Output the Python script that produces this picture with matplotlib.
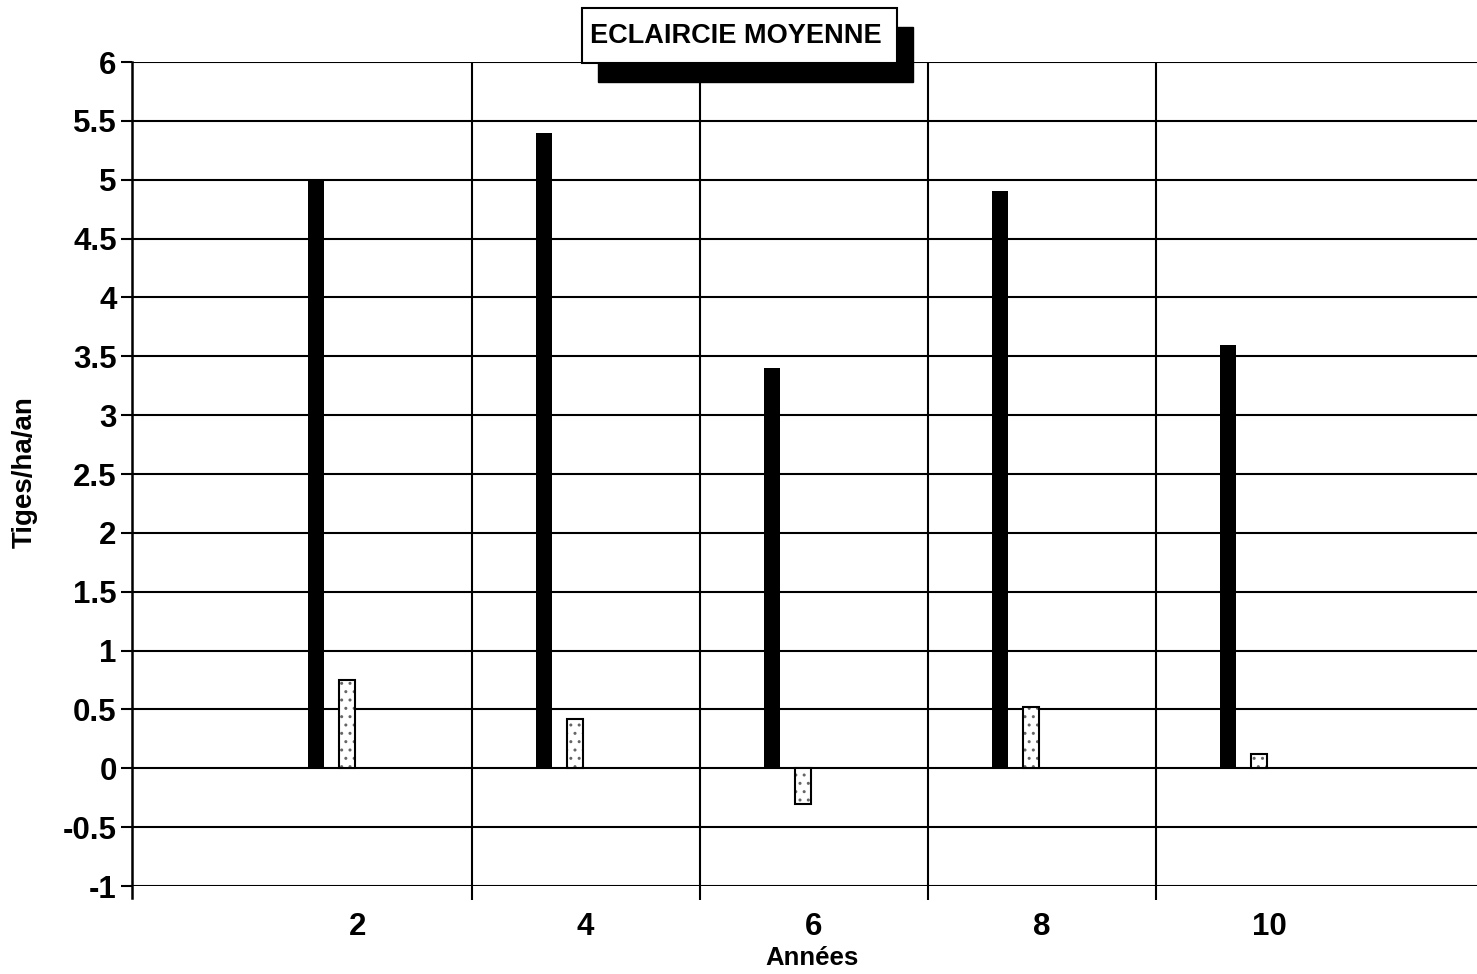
import matplotlib
matplotlib.use("Agg")
import matplotlib.pyplot as plt
from matplotlib.patches import Rectangle
import numpy as np

plt.rcParams['font.family'] = ['Liberation Sans', 'DejaVu Sans']
plt.rcParams['hatch.linewidth'] = 1.0

# data
annees = ["2", "4", "6", "8", "10"]
serie_noire = [5.0, 5.4, 3.4, 4.9, 3.6]
serie_pointillee = [0.75, 0.42, -0.3, 0.52, 0.12]
y_ticks = np.arange(-1, 6.01, 0.5)

W, H = 1477, 974
fig = plt.figure(figsize=(W / 100, H / 100), dpi=100)
left, right, top, bottom = 132, 1477, 62, 886
ax = fig.add_axes([left / W, 1 - bottom / H, (right - left) / W, (bottom - top) / H])

x = np.arange(1, len(annees) + 1)
bw = 0.07
ax.bar(x - 0.184, serie_noire, width=bw, color="black", zorder=3)
ax.bar(x - 0.046, serie_pointillee, width=bw, color="white", edgecolor="#666666",
       hatch="..", linewidth=0, zorder=3)
ax.bar(x - 0.046, serie_pointillee, width=bw, fill=False, edgecolor="black",
       linewidth=1.5, zorder=4)

ax.set_xlim(0.01, 5.91)
ax.set_ylim(-1, 6)
ax.set_yticks(y_ticks)
ax.set_yticklabels(["%g" % v for v in y_ticks])

# category boundaries as vertical grid lines, labels at the centres
ax.set_xticks([1.5, 2.5, 3.5, 4.5])
ax.set_xticklabels([])
ax.set_xticks(x, minor=True)
ax.set_xticklabels(annees, minor=True)
ax.tick_params(axis="x", which="major", length=10, width=1.5, color="black")
ax.tick_params(axis="x", which="minor", length=0, pad=19, labelsize=22.5)
ax.tick_params(axis="y", length=8, width=1.5, pad=3, labelsize=22.5)
for lab in ax.get_xticklabels(minor=True) + ax.get_yticklabels():
    lab.set_fontweight("bold")

ax.grid(True, axis="y", color="black", linewidth=1.5)
ax.grid(True, axis="x", which="major", color="black", linewidth=1.5)
ax.set_axisbelow(True)
for s in ["top", "right", "bottom"]:
    ax.spines[s].set_visible(False)
ax.spines["left"].set_linewidth(1.8)
ax.spines["left"].set_bounds(-1.1, 6)

fig.text(25 / W, 1 - 472 / H, "Tiges/ha/an", rotation=90, ha="center", va="center",
         fontsize=20, fontweight="bold")
fig.text(812 / W, 1 - 958 / H, "Années", ha="center", va="center",
         fontsize=18.5, fontweight="bold")

# title box with drop shadow
bx0, by0, bx1, by1 = 582, 8, 897, 63
sx, sy = 16, 19
fig.add_artist(Rectangle(((bx0 + sx) / W, 1 - (by1 + sy) / H), (bx1 - bx0) / W, (by1 - by0) / H,
                         transform=fig.transFigure, facecolor="black", edgecolor="black", zorder=10))
fig.add_artist(Rectangle((bx0 / W, 1 - by1 / H), (bx1 - bx0) / W, (by1 - by0) / H,
                         transform=fig.transFigure, facecolor="white", edgecolor="black",
                         linewidth=1.5, zorder=11))
fig.text((bx0 + bx1) / 2 / W - 4 / W, 1 - 36 / H, "ECLAIRCIE MOYENNE", ha="center", va="center",
         fontsize=19.5, fontweight="bold", zorder=12)

fig.savefig("out.png", dpi=100)
